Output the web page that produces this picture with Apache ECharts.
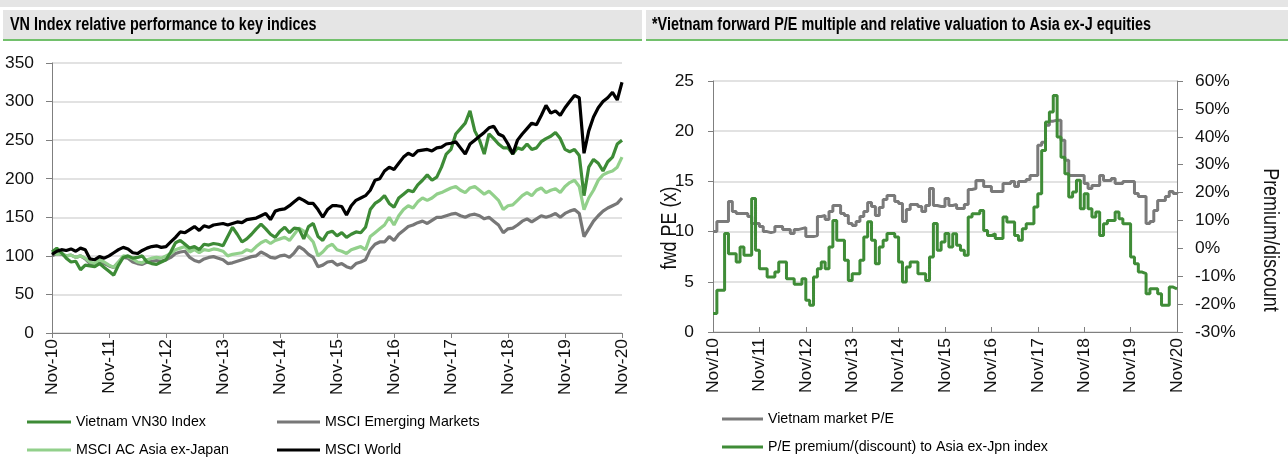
<!DOCTYPE html>
<html><head><meta charset="utf-8">
<script src="https://cdn.jsdelivr.net/npm/echarts@6/dist/echarts.min.js"></script>
<style>html,body{margin:0;padding:0;background:#fff}#c{width:1288px;height:468px}</style>
</head><body><div id="c"></div>
<script>
// ---------- data ----------
const tickLabelsLeft = ['Nov-10','Nov-11','Nov-12','Nov-13','Nov-14','Nov-15','Nov-16','Nov-17','Nov-18','Nov-19','Nov-20'];
const tickLabelsRight = ['Nov/10','Nov/11','Nov/12','Nov/13','Nov/14','Nov/15','Nov/16','Nov/17','Nov/18','Nov/19','Nov/20'];
const seriesNamesLeft = ['Vietnam VN30 Index','MSCI Emerging Markets','MSCI AC Asia ex-Japan','MSCI World'];
const seriesNamesRight = ['Vietnam market P/E','P/E premium/(discount) to Asia ex-Jpn index'];
// monthly categories Nov-2010 .. Nov-2020 (121 months)
const months = [];
for (let y = 2010, m = 10; months.length < 121; ) { months.push(y + '-' + String(m + 1).padStart(2, '0')); m++; if (m === 12) { m = 0; y++; } }

const vn30 = [105,110,104,97,92,93,82,88,87,86,90,85,
  80,75,88,98,100,97,98,100,92,90,89,92,
  95,105,117,120,115,110,112,108,115,114,116,115,
  113,125,137,128,118,122,128,135,141,135,128,124,
  132,137,130,136,135,122,138,142,125,120,130,132,
  126,130,124,128,131,130,137,160,168,172,178,168,
  163,175,180,185,183,192,198,205,198,202,215,232,
  238,258,265,272,288,262,250,232,258,252,245,240,
  240,232,240,238,245,238,240,248,252,255,260,252,
  238,235,238,230,178,215,225,220,210,222,228,245,
  250];
const msciEM = [100,103,102,100,101,98,100,96,90,88,93,90,
  87,85,92,98,97,92,90,89,92,93,94,93,
  95,98,103,105,106,98,94,92,96,98,99,97,
  95,90,91,93,95,97,99,100,105,102,98,97,
  100,101,98,104,112,108,102,98,86,88,92,93,
  88,90,86,84,90,92,95,108,115,118,118,125,
  120,128,133,138,140,143,145,142,146,150,150,152,
  154,155,152,150,153,154,152,148,150,145,140,130,
  135,136,140,145,148,144,148,152,150,152,155,150,
  155,158,160,155,125,135,145,152,158,162,165,168,
  175];
const msciAsiaxJ = [105,102,103,100,101,98,100,97,92,90,95,92,
  88,85,92,100,99,96,92,91,95,97,98,97,
  100,103,108,110,112,105,108,104,108,107,109,108,
  106,100,102,103,104,108,106,112,117,120,116,120,
  122,124,120,128,136,132,125,118,100,105,112,115,
  108,106,103,108,110,112,108,125,130,135,140,150,
  140,152,160,165,162,170,175,172,175,180,182,185,
  188,190,185,182,188,190,185,180,184,178,172,160,
  165,166,172,178,182,178,185,188,182,185,187,182,
  190,195,198,190,160,175,185,198,205,208,210,215,
  228];
const msciWorld = [102,106,108,107,109,106,110,108,96,95,99,97,
  100,104,108,111,109,104,103,107,110,112,113,111,
  112,118,124,131,130,134,138,133,139,137,140,141,
  142,140,142,144,143,147,148,149,152,155,147,158,
  160,161,165,170,175,172,168,168,160,150,160,165,
  165,164,153,165,172,175,178,185,198,200,210,215,
  212,220,228,233,230,236,237,238,236,240,241,245,
  246,248,240,232,245,250,255,260,266,268,258,255,
  245,232,250,258,265,272,270,282,295,285,288,282,
  292,300,308,305,233,262,280,292,300,305,312,302,
  325];
const vnPE = [10.0,11.0,11.0,11.0,13.0,12.0,11.8,11.8,11.8,11.5,10.8,10.8,
  10.5,10.0,9.9,10.0,10.5,10.5,10.2,10.2,9.8,10.2,10.3,10.4,
  9.5,9.5,9.6,11.5,11.6,11.2,12.0,12.6,12.6,11.8,11.6,10.8,
  10.6,11.0,11.5,12.0,12.9,12.5,11.6,12.4,13.2,13.6,13.6,13.0,
  12.8,11.0,12.2,12.7,12.7,12.5,12.0,12.6,14.3,12.6,12.5,12.5,
  13.3,12.6,12.7,12.3,12.3,12.7,14.2,14.3,15.1,15.1,14.5,14.5,
  14.0,14.0,14.0,14.8,14.8,15.0,14.5,15.0,15.0,15.2,15.6,15.6,
  18.6,18.9,20.6,21.0,21.1,21.1,19.1,17.1,15.6,15.6,15.6,15.6,
  14.8,14.3,14.6,14.6,15.6,15.1,15.1,15.3,14.8,14.8,15.0,15.0,
  15.0,13.8,13.5,13.5,10.8,11.0,12.1,13.1,13.1,13.5,14.0,13.8,
  13.9];
const pePremium = [-23.4,-15,-15,5.3,-1.9,-1.9,-4.9,0.5,-2.5,-2.5,17.9,-0.7,
  -7.3,-7.3,-10.3,-10.3,-8.5,-4.9,-4.9,-10.9,-10.9,-12.9,-12.9,-10.9,
  -18.6,-20.4,-10.3,-7.3,-4.9,-7.3,0.5,10.0,2.9,2.9,-4.3,-11.5,
  -9.1,-9.1,-4.3,4.1,9.5,2.9,-5.5,0.5,2.9,5.3,5.3,4.1,
  -4.9,-12.1,-6.7,-4.9,-4.9,-9.1,-9.1,-11.5,-3.1,8.9,-0.7,2.3,
  5.3,0.5,5.2,1.1,-0.7,-2.5,11.2,12.4,12.4,13.6,6.4,4.6,
  5.2,3.5,3.5,11.2,9.4,9.4,4.6,2.9,7.0,8.8,8.8,14.8,
  19.6,35.1,45.3,48.9,54.8,39.9,32.7,26.7,18.4,20.2,24.4,14.2,
  19.6,14.2,11.2,13.0,4.6,8.8,10.0,10.0,13.0,10.6,8.8,8.8,
  -3.1,-5.5,-8.5,-9.1,-16.3,-14.5,-14.5,-16.3,-20.4,-20.4,-13.9,-14.5,
  -14.5];

// ---------- fonts ----------
function hasFont(f){const c=document.createElement('canvas').getContext('2d');const s='Nov-10 abcdefghijk';c.font='40px monospace';const a=c.measureText(s).width;c.font='40px "'+f+'", monospace';return c.measureText(s).width!==a;}
const NARROW = hasFont('Liberation Sans Narrow') ? 'Liberation Sans Narrow' : (hasFont('Arial Narrow') ? 'Arial Narrow' : 'Liberation Sans');
const IS_NARROW = NARROW !== 'Liberation Sans';
const FF = '"' + NARROW + '", "Liberation Sans", sans-serif';
const SQ = IS_NARROW ? 1 : 0.8;          // horizontal squeeze for free-standing texts
const fsT = IS_NARROW ? 21 : 17.4;       // tick label size
const fsL = IS_NARROW ? 17.5 : 14.2;     // legend size

const C = {vn:'#3d8b36', em:'#777777', asia:'#92d08b', world:'#000000', pe:'#7a7a7a', prem:'#3f8c37', axis:'#7f7f7f', grid:'#d9d9d9', txt:'#111'};

const chart = echarts.init(document.getElementById('c'), null, {renderer:'canvas'});
const lbl = (arr) => (v, i) => arr[i / 12];
const lineS = (name, data, color, xi, yi, w, extra) => Object.assign({
  name, type:'line', data, xAxisIndex:xi, yAxisIndex:yi, symbol:'none', showSymbol:false,
  lineStyle:{color, width:w}, itemStyle:{color}, animation:false, emphasis:{disabled:true}
}, extra || {});
const legendText = {fontSize:fsL, fontFamily:FF, color:'#000', lineHeight:20};

chart.setOption({
  animation:false,
  textStyle:{fontFamily:FF},
  graphic:[
    {type:'rect', shape:{x:0,y:0,width:1288,height:7}, style:{fill:'#e5e5e5'}},
    {type:'rect', shape:{x:3,y:10,width:639,height:30}, style:{fill:'#e5e5e5'}},
    {type:'rect', shape:{x:646,y:10,width:642,height:30}, style:{fill:'#e5e5e5'}},
    {type:'rect', shape:{x:3,y:39,width:639,height:2}, style:{fill:'#72c06c'}},
    {type:'rect', shape:{x:646,y:39,width:642,height:2}, style:{fill:'#72c06c'}},
    {type:'text', x:10, y:25, scaleX:SQ, style:{text:'VN Index relative performance to key indices', font:'bold 18px '+FF, fill:'#000', verticalAlign:'middle'}},
    {type:'text', x:652, y:25, scaleX:SQ, style:{text:'*Vietnam forward P/E multiple and relative valuation to Asia ex-J equities', font:'bold 18px '+FF, fill:'#000', verticalAlign:'middle'}},
    {type:'text', x:670, y:228, rotation:Math.PI/2, scaleX:SQ*1.02, style:{text:'fwd PE (x)', font:'22px '+FF, fill:C.txt, align:'center', verticalAlign:'middle'}},
    {type:'text', x:1270, y:240, rotation:-Math.PI/2, scaleX:SQ*1.02, style:{text:'Premium/discount', font:'22px '+FF, fill:C.txt, align:'center', verticalAlign:'middle'}}
  ],
  grid:[
    {left:52, top:63, width:570, height:270},
    {left:713, top:81, width:464, height:251}
  ],
  xAxis:[
    {type:'category', gridIndex:0, data:months, boundaryGap:false,
     axisLine:{lineStyle:{color:C.axis, width:1}},
     axisTick:{interval:11, length:5, lineStyle:{color:C.axis}},
     axisLabel:{interval:11, rotate:90, margin:6, formatter:lbl(tickLabelsLeft), fontSize:fsT, fontFamily:FF, color:C.txt},
     splitLine:{show:false}},
    {type:'category', gridIndex:1, data:months, boundaryGap:false,
     axisLine:{lineStyle:{color:C.axis, width:1}},
     axisTick:{interval:11, length:5, inside:true, lineStyle:{color:C.axis}},
     axisLabel:{interval:11, rotate:90, margin:6, formatter:lbl(tickLabelsRight), fontSize:fsT, fontFamily:FF, color:C.txt},
     splitLine:{show:false}}
  ],
  yAxis:[
    {type:'value', gridIndex:0, min:0, max:350, interval:50,
     axisLine:{show:true, lineStyle:{color:C.axis}}, axisTick:{show:true, length:6, lineStyle:{color:C.axis}},
     axisLabel:{margin:18, fontSize:fsT, fontFamily:FF, color:C.txt},
     splitLine:{show:true, lineStyle:{color:C.grid, width:1.5}}},
    {type:'value', gridIndex:1, min:0, max:25, interval:5,
     axisLine:{show:true, lineStyle:{color:C.axis}}, axisTick:{show:true, length:5, lineStyle:{color:C.axis}},
     axisLabel:{margin:19, fontSize:fsT, fontFamily:FF, color:C.txt},
     splitLine:{show:true, lineStyle:{color:C.grid, width:1.5}}},
    {type:'value', gridIndex:1, position:'right', min:-30, max:60, interval:10,
     axisLine:{show:true, lineStyle:{color:C.axis}}, axisTick:{show:true, length:6, lineStyle:{color:C.axis}},
     axisLabel:{margin:18, fontSize:fsT, fontFamily:FF, color:C.txt, formatter:'{value}%'},
     splitLine:{show:false}}
  ],
  legend:[
    {orient:'vertical', left:27, top:412, padding:0, itemWidth:44, itemHeight:3, itemGap:8, icon:'rect',
     data:[seriesNamesLeft[0], seriesNamesLeft[2]], textStyle:legendText, selectedMode:false},
    {orient:'vertical', left:277, top:412, padding:0, itemWidth:43, itemHeight:3, itemGap:8, icon:'rect',
     data:[seriesNamesLeft[1], seriesNamesLeft[3]], textStyle:legendText, selectedMode:false},
    {orient:'vertical', left:722, top:409, padding:0, itemWidth:41, itemHeight:3, itemGap:8, icon:'rect',
     data:seriesNamesRight, textStyle:legendText, selectedMode:false}
  ],
  series:[
    lineS(seriesNamesLeft[1], msciEM, C.em, 0, 0, 3.2),
    lineS(seriesNamesLeft[2], msciAsiaxJ, C.asia, 0, 0, 3.2),
    lineS(seriesNamesLeft[0], vn30, C.vn, 0, 0, 3.2),
    lineS(seriesNamesLeft[3], msciWorld, C.world, 0, 0, 3.2),
    lineS(seriesNamesRight[0], vnPE, C.pe, 1, 1, 3, {step:'end'}),
    lineS(seriesNamesRight[1], pePremium, C.prem, 1, 2, 3, {step:'end'})
  ]
});
</script></body></html>
